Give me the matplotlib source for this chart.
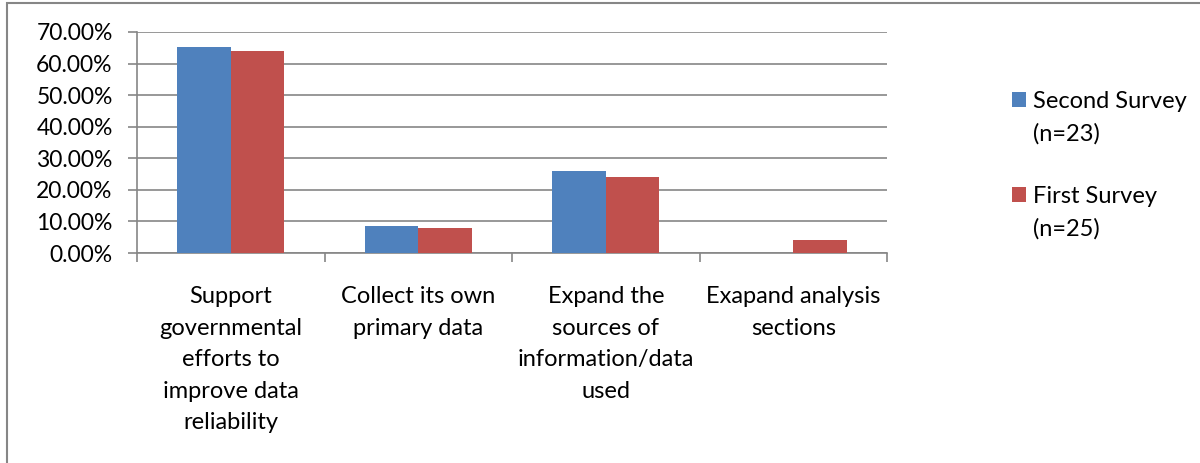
import numpy as np
import matplotlib.pyplot as plt
from matplotlib.patches import Rectangle
from matplotlib.ticker import FuncFormatter, FixedLocator

# Data
categories = ['Support\ngovernmental\nefforts to\nimprove data\nreliability',
              'Collect its own\nprimary data',
              'Expand the\nsources of\ninformation/data\nused',
              'Exapand analysis\nsections']
second_survey = [65.22, 8.70, 26.09, 0.0]
first_survey = [64.0, 8.0, 24.0, 4.0]
series_names = ['Second Survey', 'First Survey']
series_n = ['(n=23)', '(n=25)']

plt.rcParams['font.family'] = ['Lato', 'DejaVu Sans']

fig = plt.figure(figsize=(12, 4.63), dpi=100)
ax = fig.add_axes([137 / 1200, 1 - 253 / 463, 750 / 1200, 221 / 463])

x = np.arange(len(categories))
w = 0.285
b1 = ax.bar(x - w / 2, second_survey, w, color='#4f81bd', label=series_names[0], zorder=3)
b2 = ax.bar(x + w / 2, first_survey, w, color='#c0504d', label=series_names[1], zorder=3)

ax.set_xlim(-0.5, len(categories) - 0.5)
ax.set_ylim(0, 70)
ax.set_yticks(np.arange(0, 71, 10))
ax.yaxis.set_major_formatter(FuncFormatter(lambda v, p: '%.2f%%' % v))
ax.grid(axis='y', color='#868686', linewidth=1.2, zorder=0)

ax.set_xticks(x)
ax.set_xticklabels(categories, linespacing=1.62)
ax.xaxis.set_minor_locator(FixedLocator(np.arange(-0.5, len(categories), 1)))
ax.tick_params(axis='x', which='major', length=0, pad=24, labelsize=17)
ax.tick_params(axis='x', which='minor', length=6.5, color='#868686', width=1.2)
ax.tick_params(axis='y', length=6.5, color='#868686', width=1.2, labelsize=16.5, pad=11)

for s in ['top', 'right']:
    ax.spines[s].set_visible(False)
for s in ['left', 'bottom']:
    ax.spines[s].set_color('#868686')
    ax.spines[s].set_linewidth(1.2)

leg = fig.legend(handles=[b1, b2], loc='upper left', bbox_to_anchor=(1012 / 1200, 1 - 91 / 463),
                 frameon=False, fontsize=17, handlelength=0.6, handleheight=0.6,
                 handletextpad=0.3, labelspacing=3.12, borderaxespad=0, borderpad=0)
fig.canvas.draw()
# second line of each legend label, placed under the first
for t, n in zip(leg.get_texts(), series_n):
    bb = t.get_window_extent()
    fig.text(bb.x0 / 1200, (bb.y0 - 33) / 463, n, fontsize=17, ha='left', va='bottom')

fig.patches.append(Rectangle((7 / 1200, -0.02), 1.1, 1 - 3 / 463 + 0.02, transform=fig.transFigure,
                             fill=False, edgecolor='#868686', linewidth=1.5))

fig.savefig('out.png', dpi=100)
